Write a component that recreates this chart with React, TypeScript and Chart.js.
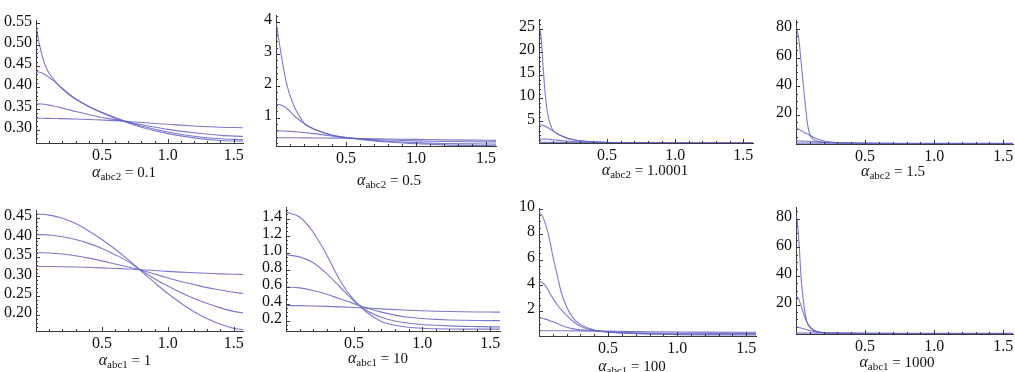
import React, { useEffect, useRef } from "react";
import { Chart, registerables } from "chart.js";

Chart.register(...registerables);

const FONT = '"Liberation Serif", "Times New Roman", serif';
const LINE = "rgba(100, 100, 195, 0.85)";
const AXIS = "#3a3a3a";
const X_MAX = 1.5708;
const X_TICKS = [0.5, 1.0, 1.5];

// x grids
const X_FAST = [0, 0.02, 0.04, 0.06, 0.08, 0.1, 0.13, 0.16, 0.2, 0.25, 0.3, 0.4, 0.5, 0.6, 0.7, 0.8, 1.0, 1.2, 1.4, 1.5708];
const X_SMOOTH = [0, 0.1, 0.2, 0.3, 0.4, 0.5, 0.6, 0.7, 0.8, 0.9, 1.0, 1.1, 1.2, 1.3, 1.4, 1.5, 1.5708];
const X_SPIKE = [0, 0.01, 0.02, 0.03, 0.04, 0.05, 0.06, 0.08, 0.1, 0.12, 0.15, 0.2, 0.25, 0.3, 0.4, 0.6, 0.8, 1.0, 1.2, 1.4, 1.5708];

// alpha_abc2 = 0.1 (X_FAST)
const P1_A = [0.545, 0.510, 0.482, 0.460, 0.444, 0.433, 0.420, 0.409, 0.396, 0.383, 0.372, 0.355, 0.340, 0.327, 0.316, 0.306, 0.291, 0.281, 0.275, 0.273];
const P1_B = [0.437, 0.436, 0.434, 0.431, 0.427, 0.423, 0.416, 0.408, 0.397, 0.384, 0.373, 0.355, 0.341, 0.329, 0.318, 0.309, 0.295, 0.285, 0.279, 0.277];
const P1_C = [0.361, 0.361, 0.3605, 0.360, 0.359, 0.358, 0.356, 0.354, 0.351, 0.347, 0.343, 0.336, 0.329, 0.324, 0.318, 0.312, 0.301, 0.293, 0.287, 0.2845];
const P1_D = [0.327, 0.327, 0.327, 0.327, 0.3269, 0.3268, 0.3266, 0.3264, 0.3262, 0.3258, 0.3253, 0.3243, 0.323, 0.3215, 0.3195, 0.317, 0.313, 0.309, 0.306, 0.305];

// alpha_abc2 = 0.5 (X_FAST)
const P2_A = [4.0, 3.45, 2.9, 2.4, 2.0, 1.7, 1.35, 1.1, 0.83, 0.69, 0.595, 0.455, 0.375, 0.32, 0.27, 0.235, 0.18, 0.145, 0.127, 0.12];
const P2_B = [1.42, 1.415, 1.39, 1.35, 1.28, 1.2, 1.06, 0.95, 0.82, 0.68, 0.59, 0.45, 0.372, 0.33, 0.29, 0.26, 0.215, 0.19, 0.177, 0.17];
const P2_C = [0.585, 0.584, 0.582, 0.579, 0.575, 0.57, 0.561, 0.55, 0.533, 0.508, 0.482, 0.425, 0.368, 0.338, 0.315, 0.297, 0.27, 0.253, 0.244, 0.24];
const P2_D = [0.37, 0.37, 0.37, 0.37, 0.369, 0.369, 0.368, 0.367, 0.366, 0.364, 0.362, 0.358, 0.355, 0.347, 0.34, 0.332, 0.318, 0.303, 0.293, 0.288];

// alpha_abc2 = 1.0001 (X_SPIKE)
const P3_A = [25.5, 24.5, 21.5, 17, 12.8, 9.6, 7.3, 4.6, 3.2, 2.6, 2.1, 1.45, 1.05, 0.8, 0.55, 0.33, 0.26, 0.23, 0.215, 0.21, 0.205];
const P3_B = [4.3, 4.28, 4.22, 4.13, 4.02, 3.88, 3.72, 3.36, 2.96, 2.56, 2.05, 1.42, 1.02, 0.79, 0.55, 0.35, 0.29, 0.26, 0.245, 0.235, 0.23];
const P3_C = [1.2, 1.2, 1.19, 1.18, 1.17, 1.15, 1.13, 1.09, 1.03, 0.97, 0.88, 0.74, 0.64, 0.56, 0.47, 0.37, 0.33, 0.305, 0.29, 0.285, 0.28];
const P3_D = [0.45, 0.45, 0.45, 0.45, 0.45, 0.449, 0.449, 0.448, 0.447, 0.446, 0.444, 0.44, 0.437, 0.434, 0.43, 0.41, 0.39, 0.37, 0.353, 0.34, 0.335];

// alpha_abc2 = 1.5 (X_SPIKE)
const P4_A = [80, 78, 73, 64, 54, 44, 34, 16, 6.5, 3.6, 1.9, 1.1, 0.75, 0.58, 0.4, 0.27, 0.21, 0.185, 0.17, 0.165, 0.16];
const P4_B = [10.5, 10.4, 10.1, 9.6, 9.0, 8.4, 7.8, 7.0, 6.0, 5.0, 3.6, 2.0, 1.2, 0.8, 0.5, 0.31, 0.25, 0.22, 0.205, 0.2, 0.195];
const P4_C = [2.0, 2.0, 1.98, 1.96, 1.93, 1.9, 1.86, 1.78, 1.68, 1.57, 1.4, 1.12, 0.9, 0.72, 0.5, 0.34, 0.29, 0.27, 0.26, 0.255, 0.25];
const P4_D = [0.5, 0.5, 0.5, 0.5, 0.5, 0.5, 0.5, 0.5, 0.5, 0.499, 0.498, 0.495, 0.49, 0.48, 0.47, 0.44, 0.41, 0.38, 0.36, 0.35, 0.345];

// alpha_abc1 = 1 (X_SMOOTH)
const P5_A = [0.4605, 0.4578, 0.4495, 0.436, 0.417, 0.395, 0.37, 0.343, 0.313, 0.284, 0.256, 0.231, 0.209, 0.191, 0.177, 0.1665, 0.163];
const P5_B = [0.408, 0.4065, 0.402, 0.395, 0.385, 0.372, 0.356, 0.338, 0.315, 0.294, 0.275, 0.258, 0.243, 0.23, 0.219, 0.21, 0.206];
const P5_C = [0.361, 0.3602, 0.3575, 0.353, 0.347, 0.34, 0.332, 0.324, 0.316, 0.306, 0.296, 0.287, 0.279, 0.271, 0.265, 0.259, 0.256];
const P5_D = [0.3257, 0.3255, 0.325, 0.3243, 0.3232, 0.322, 0.3205, 0.319, 0.317, 0.315, 0.313, 0.311, 0.3095, 0.308, 0.3065, 0.3055, 0.305];

// alpha_abc1 = 10 (X_SMOOTH)
const P6_A = [1.475, 1.42, 1.24, 0.97, 0.66, 0.44, 0.29, 0.19, 0.145, 0.122, 0.11, 0.104, 0.101, 0.1, 0.1, 0.1, 0.1];
const P6_B = [0.975, 0.95, 0.88, 0.75, 0.59, 0.43, 0.31, 0.24, 0.195, 0.17, 0.155, 0.145, 0.138, 0.133, 0.13, 0.127, 0.126];
const P6_C = [0.595, 0.585, 0.555, 0.51, 0.455, 0.4, 0.345, 0.3, 0.265, 0.24, 0.225, 0.215, 0.208, 0.204, 0.201, 0.2, 0.2];
const P6_D = [0.377, 0.376, 0.373, 0.368, 0.362, 0.355, 0.347, 0.338, 0.33, 0.322, 0.316, 0.311, 0.307, 0.304, 0.302, 0.301, 0.3];

// alpha_abc1 = 100 (X_FAST)
const P7_A = [9.7, 9.5, 9.0, 8.3, 7.4, 6.3, 4.9, 3.5, 2.3, 1.4, 0.95, 0.5, 0.33, 0.26, 0.21, 0.18, 0.15, 0.13, 0.12, 0.12];
const P7_B = [4.3, 4.25, 4.05, 3.75, 3.35, 3.0, 2.5, 2.1, 1.65, 1.15, 0.8, 0.47, 0.35, 0.29, 0.25, 0.23, 0.2, 0.19, 0.18, 0.18];
const P7_C = [1.45, 1.43, 1.38, 1.32, 1.24, 1.15, 1.01, 0.88, 0.72, 0.6, 0.52, 0.44, 0.37, 0.32, 0.29, 0.27, 0.255, 0.25, 0.245, 0.245];
const P7_D = [0.45, 0.45, 0.45, 0.45, 0.45, 0.449, 0.448, 0.447, 0.445, 0.442, 0.438, 0.43, 0.42, 0.405, 0.39, 0.375, 0.35, 0.34, 0.333, 0.33];

// alpha_abc1 = 1000 (X_SPIKE)
const P8_A = [82, 78, 66, 50, 35, 26, 18, 8, 4.8, 2.8, 1.5, 0.8, 0.55, 0.42, 0.32, 0.26, 0.22, 0.2, 0.19, 0.18, 0.18];
const P8_B = [26, 25.5, 24, 21.5, 18.5, 15.5, 12.6, 8, 5, 3.2, 1.8, 0.9, 0.6, 0.45, 0.34, 0.27, 0.24, 0.22, 0.21, 0.2, 0.2];
const P8_C = [4.6, 4.55, 4.4, 4.2, 3.95, 3.65, 3.35, 2.75, 2.2, 1.75, 1.25, 0.8, 0.6, 0.48, 0.37, 0.3, 0.27, 0.26, 0.255, 0.25, 0.25];
const P8_D = [0.5, 0.5, 0.5, 0.5, 0.5, 0.5, 0.5, 0.5, 0.5, 0.499, 0.498, 0.495, 0.49, 0.48, 0.47, 0.44, 0.41, 0.38, 0.36, 0.35, 0.345];

// y tick labels
const Y_T1 = [0.30, 0.35, 0.40, 0.45, 0.50, 0.55];
const Y_T2 = [1, 2, 3, 4];
const Y_T3 = [5, 10, 15, 20, 25];
const Y_T4 = [20, 40, 60, 80];
const Y_T5 = [0.20, 0.25, 0.30, 0.35, 0.40, 0.45];
const Y_T6 = [0.2, 0.4, 0.6, 0.8, 1.0, 1.2, 1.4];
const Y_T7 = [2, 4, 6, 8, 10];
const Y_T8 = [20, 40, 60, 80];

type Geo = { left: number; right: number; top: number; bottom: number };
type PanelDef = {
  xs: number[];
  series: number[][];
  yMin: number;
  yMax: number;
  yTicks: number[];
  yDec: number;
  yMinor: number;
  geo: Geo;
  sub: string;
  val: string;
  lx: number;
  ly: number;
};

const PANELS: PanelDef[] = [
  { xs: X_FAST, series: [P1_A, P1_B, P1_C, P1_D], yMin: 0.269, yMax: 0.5566, yTicks: Y_T1, yDec: 2, yMinor: 0.01,
    geo: { left: 36, right: 243, top: 13, bottom: 143 }, sub: "abc2", val: "0.1", lx: 124, ly: 172 },
  { xs: X_FAST, series: [P2_A, P2_B, P2_C, P2_D], yMin: 0.11, yMax: 4.205, yTicks: Y_T2, yDec: 0, yMinor: 0.2,
    geo: { left: 276, right: 496, top: 8, bottom: 146 }, sub: "abc2", val: "0.5", lx: 389, ly: 180 },
  { xs: X_SPIKE, series: [P3_A, P3_B, P3_C, P3_D], yMin: 0.31, yMax: 27.04, yTicks: Y_T3, yDec: 0, yMinor: 1,
    geo: { left: 539, right: 753, top: 12, bottom: 143 }, sub: "abc2", val: "1.0001", lx: 645, ly: 170 },
  { xs: X_SPIKE, series: [P4_A, P4_B, P4_C, P4_D], yMin: -0.1, yMax: 85.7, yTicks: Y_T4, yDec: 0, yMinor: 5,
    geo: { left: 796, right: 1013, top: 13, bottom: 144 }, sub: "abc2", val: "1.5", lx: 893, ly: 171 },
  { xs: X_SMOOTH, series: [P5_A, P5_B, P5_C, P5_D], yMin: 0.1594, yMax: 0.4694, yTicks: Y_T5, yDec: 2, yMinor: 0.01,
    geo: { left: 36, right: 243, top: 203, bottom: 331 }, sub: "abc1", val: "1", lx: 125, ly: 360 },
  { xs: X_SMOOTH, series: [P6_A, P6_B, P6_C, P6_D], yMin: 0.078, yMax: 1.53, yTicks: Y_T6, yDec: 1, yMinor: 0.05,
    geo: { left: 286, right: 500, top: 200, bottom: 331 }, sub: "abc1", val: "10", lx: 378, ly: 358 },
  { xs: X_FAST, series: [P7_A, P7_B, P7_C, P7_D], yMin: 0.04, yMax: 10.0, yTicks: Y_T7, yDec: 0, yMinor: 0.5,
    geo: { left: 539, right: 756, top: 201, bottom: 336 }, sub: "abc1", val: "100", lx: 632, ly: 366 },
  { xs: X_SPIKE, series: [P8_A, P8_B, P8_C, P8_D], yMin: -0.1, yMax: 87.6, yTicks: Y_T8, yDec: 0, yMinor: 5,
    geo: { left: 796, right: 1013, top: 200, bottom: 334 }, sub: "abc1", val: "1000", lx: 897, ly: 362 },
];

const YW = 44;
const PT = 6;
const PR = 6;
const XH = 26;
const TICK_SIZE = 16;

function Panel({ p }: { p: PanelDef }) {
  const ref = useRef<HTMLCanvasElement>(null);
  const w = p.geo.right - p.geo.left + YW + PR;
  const h = p.geo.bottom - p.geo.top + PT + XH;

  useEffect(() => {
    const ticksPlugin = {
      id: "mmaTicks",
      afterDatasetsDraw(chart: any) {
        const { ctx, chartArea, scales } = chart;
        const xs = scales.x;
        const ys = scales.y;
        ctx.save();
        ctx.strokeStyle = AXIS;
        ctx.lineWidth = 1;
        ctx.beginPath();
        for (let i = 1; i <= 15; i++) {
          const v = i / 10;
          const px = Math.round(xs.getPixelForValue(v)) + 0.5;
          const len = i % 5 === 0 ? 4 : 2;
          ctx.moveTo(px, chartArea.bottom);
          ctx.lineTo(px, chartArea.bottom - len);
        }
        const k0 = Math.ceil(p.yMin / p.yMinor - 1e-6);
        const k1 = Math.floor(p.yMax / p.yMinor + 1e-6);
        for (let k = k0; k <= k1; k++) {
          const v = k * p.yMinor;
          if (v <= 0 && p.yMin < 0) continue;
          const py = Math.round(ys.getPixelForValue(v)) + 0.5;
          const major = p.yTicks.some((t) => Math.abs(t - v) < p.yMinor / 10);
          const len = major ? 4 : 2;
          ctx.moveTo(chartArea.left, py);
          ctx.lineTo(chartArea.left + len, py);
        }
        ctx.stroke();
        ctx.restore();
      },
    };

    const chart = new Chart(ref.current as HTMLCanvasElement, {
      type: "line",
      data: {
        datasets: p.series.map((vals) => ({
          data: p.xs.map((x, i) => ({ x, y: vals[i] })),
          borderColor: LINE,
          borderWidth: 1.1,
          pointRadius: 0,
          fill: false,
          cubicInterpolationMode: "monotone" as const,
        })),
      },
      options: {
        responsive: false,
        animation: false,
        devicePixelRatio: 1,
        layout: { padding: { top: PT, right: PR, left: 0, bottom: 0 } },
        plugins: {
          legend: { display: false },
          tooltip: { enabled: false },
        },
        scales: {
          x: {
            type: "linear",
            min: 0,
            max: X_MAX,
            grid: { display: false, drawTicks: false },
            border: { display: true, color: AXIS, width: 1 },
            ticks: {
              font: { family: FONT, size: TICK_SIZE },
              color: "#111",
              padding: 3,
              autoSkip: false,
              maxRotation: 0,
              callback: (v: any) => Number(v).toFixed(1),
            },
            afterBuildTicks: (s: any) => {
              s.ticks = X_TICKS.map((v) => ({ value: v }));
            },
            afterFit: (s: any) => {
              s.height = XH;
            },
          },
          y: {
            type: "linear",
            min: p.yMin,
            max: p.yMax,
            grid: { display: false, drawTicks: false },
            border: { display: true, color: AXIS, width: 1 },
            ticks: {
              font: { family: FONT, size: TICK_SIZE },
              color: "#111",
              padding: 4,
              labelOffset: -2,
              autoSkip: false,
              callback: (v: any) => Number(v).toFixed(p.yDec),
            },
            afterBuildTicks: (s: any) => {
              s.ticks = p.yTicks.map((v) => ({ value: v }));
            },
            afterFit: (s: any) => {
              s.width = YW;
            },
          },
        },
      },
      plugins: [ticksPlugin],
    });
    return () => chart.destroy();
  }, [p]);

  return (
    <>
      <canvas
        ref={ref}
        width={w}
        height={h}
        style={{
          position: "absolute",
          left: p.geo.left - YW,
          top: p.geo.top - PT,
          width: w,
          height: h,
        }}
      />
      <div
        style={{
          position: "absolute",
          left: p.lx,
          top: p.ly,
          transform: "translate(-50%, -50%)",
          fontFamily: FONT,
          fontSize: 15,
          color: "#111",
          whiteSpace: "nowrap",
          lineHeight: "18px",
        }}
      >
        <span style={{ fontStyle: "italic", fontSize: 16 }}>α</span>
        <span style={{ fontSize: 11, position: "relative", top: 3 }}>{p.sub}</span>
        {" = " + p.val}
      </div>
    </>
  );
}

export default function App() {
  return (
    <div
      style={{
        position: "fixed",
        left: 0,
        top: 0,
        width: 1015,
        height: 372,
        background: "#fff",
        overflow: "hidden",
      }}
    >
      {PANELS.map((p, i) => (
        <Panel key={i} p={p} />
      ))}
    </div>
  );
}
